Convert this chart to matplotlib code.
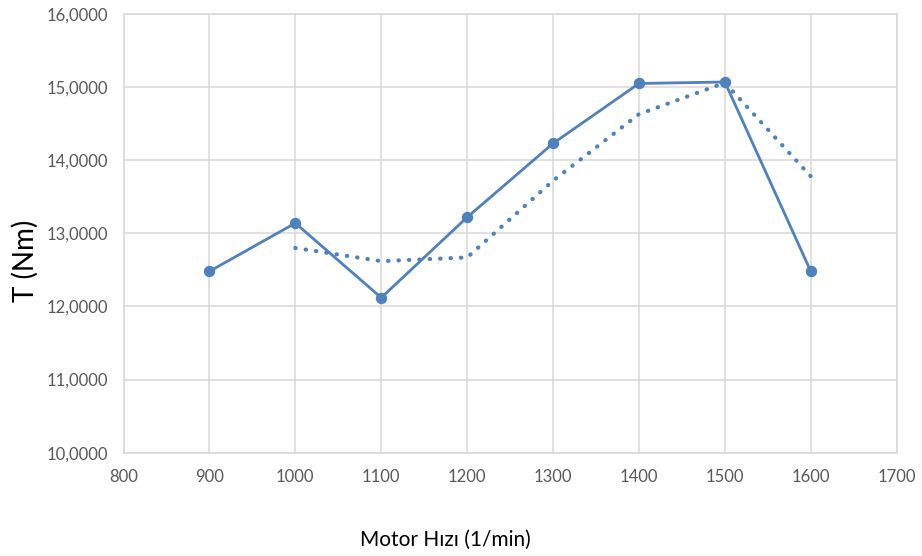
import matplotlib
matplotlib.use("Agg")
import matplotlib.pyplot as plt
from matplotlib.ticker import FuncFormatter

# motor speed vs torque
speed = [900, 1000, 1100, 1200, 1300, 1400, 1500, 1600]
torque = [12.48, 13.14, 12.12, 13.22, 14.23, 15.05, 15.07, 12.48]

# dotted trend (2-period moving average)
trend_speed = [1000, 1100, 1200, 1300, 1400, 1500, 1600]
trend_torque = [12.80, 12.62, 12.67, 13.72, 14.63, 15.06, 13.78]

x_ticks = [800, 900, 1000, 1100, 1200, 1300, 1400, 1500, 1600, 1700]
y_ticks = [10, 11, 12, 13, 14, 15, 16]

BLUE = "#4f81bd"
GRID = "#d9d9d9"
TICK = "#595959"

plt.rcParams['font.family'] = ['Lato', 'DejaVu Sans']

fig = plt.figure(figsize=(9.22, 5.56), dpi=100)
ax = fig.add_axes([123.5 / 922, 1 - 452.7 / 556, (896.7 - 123.5) / 922, (452.7 - 14) / 556])

ax.plot(speed, torque, color=BLUE, lw=2.0, marker='o', markersize=7.2, zorder=3)
ax.plot(trend_speed, trend_torque, color=BLUE, lw=3.0,
        linestyle=(0, (0.1, 2.4)), dash_capstyle='round', zorder=2)

ax.set_xlim(800, 1700)
ax.set_ylim(10, 16)
ax.set_xticks(x_ticks)
ax.set_yticks(y_ticks)
ax.yaxis.set_major_formatter(FuncFormatter(lambda v, p: f"{v:.4f}".replace('.', ',')))

ax.grid(True, color=GRID, lw=1.1)
ax.set_axisbelow(True)
for s in ax.spines.values():
    s.set_color(GRID)
    s.set_linewidth(1.1)
ax.tick_params(length=0, colors=TICK, labelsize=12)
ax.tick_params(axis='x', pad=12)
ax.tick_params(axis='y', pad=11)

fig.text(25 / 922, 1 - 261 / 556, "T (Nm)", fontsize=20, rotation=90,
         ha='center', va='center', color='black')
fig.text(445 / 922, 1 - 540 / 556, "Motor Hızı (1/min)", fontsize=15,
         ha='center', va='center', color='black')

fig.savefig("out.png", dpi=100, facecolor='white')
